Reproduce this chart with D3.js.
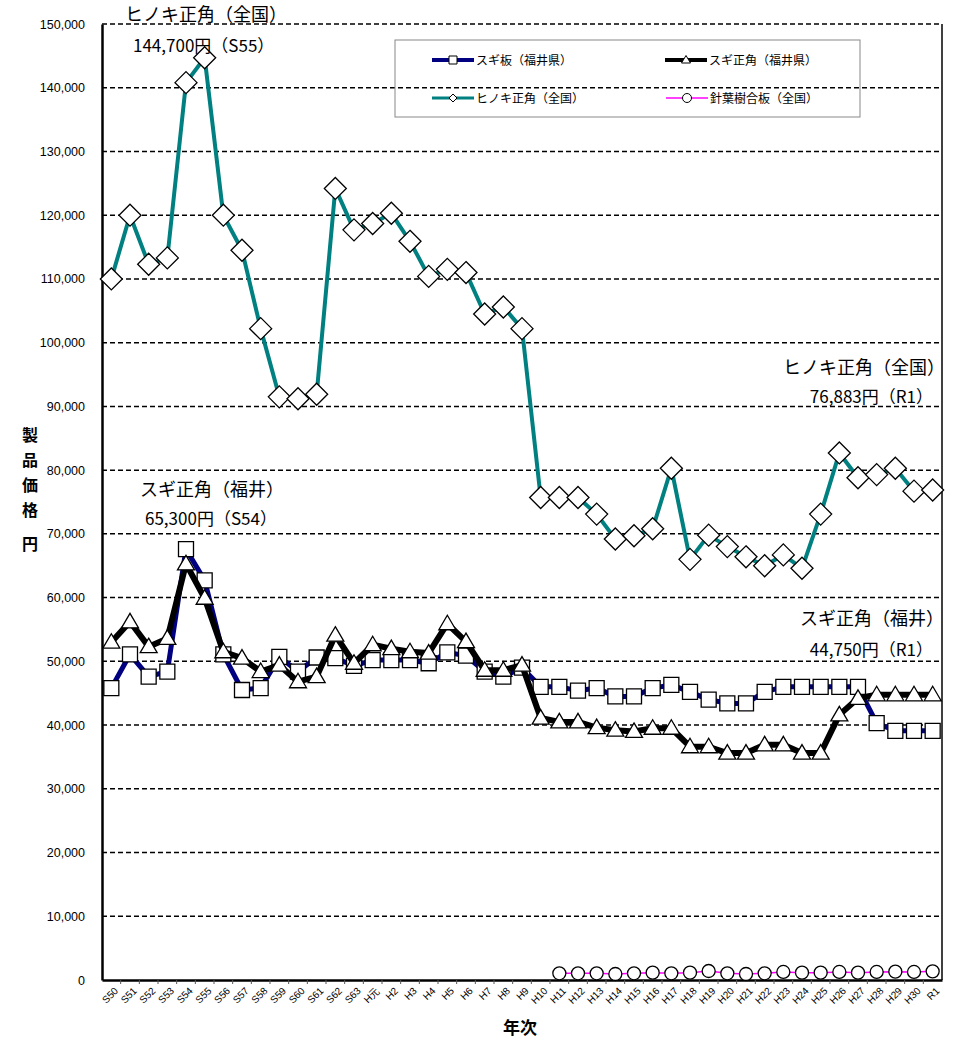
<!DOCTYPE html>
<html>
<head>
<meta charset="utf-8">
<script src="https://cdn.jsdelivr.net/npm/d3@7"></script>
<style>
  body { margin: 0; background: #fff; }
  text { font-family: "Noto Sans CJK JP", "Noto Sans", sans-serif; }
</style>
</head>
<body>
<div id="chart"></div>
<script>
var years = ["S50","S51","S52","S53","S54","S55","S56","S57","S58","S59","S60","S61","S62","S63",
  "H元","H2","H3","H4","H5","H6","H7","H8","H9","H10","H11","H12","H13","H14","H15","H16","H17",
  "H18","H19","H20","H21","H22","H23","H24","H25","H26","H27","H28","H29","H30","R1"];

// スギ板（福井県）
var sugiBoard = [45800,51100,47600,48400,67600,62700,51100,45500,45800,50700,48400,50600,50500,49300,
  50200,50200,50200,49700,51400,50900,48400,47600,49000,46000,46000,45400,45800,44500,44500,45800,46300,
  45200,44000,43400,43400,45200,46000,46000,46000,46000,46000,40300,39100,39100,39100];

// スギ正角（福井県）
var sugiSquare = [53000,56200,52300,53600,65300,59900,51500,50500,48400,49400,46800,47600,54100,49700,
  52600,52000,51500,51300,55900,53100,48600,48600,49400,41100,40500,40500,39600,39200,39000,39500,39500,
  36600,36600,35600,35600,36900,36900,35600,35600,41600,44200,44750,44750,44750,44750];

// ヒノキ正角（全国）
var hinoki = [110000,120000,112300,113300,140800,144700,120000,114500,102200,91500,91200,91900,124200,117700,
  118700,120300,115900,110400,111500,111000,104500,105600,102200,75700,75700,75700,73100,69200,69700,70800,80300,
  66000,69800,68000,66400,65000,66700,64600,73100,82700,78800,79300,80300,76700,76883];

// 針葉樹合板（全国） H11〜R1
var plywoodYears = ["H11","H12","H13","H14","H15","H16","H17","H18","H19","H20","H21","H22","H23","H24","H25",
  "H26","H27","H28","H29","H30","R1"];
var plywood = [1050,1050,1050,940,1050,1150,1050,1150,1410,1050,940,1050,1260,1150,1150,1260,1150,1260,1310,1260,1360];

var yTicks = d3.range(0, 150001, 10000);

var width = 962, height = 1043;
var plotL = 102, plotR = 942, plotT = 24, plotB = 980;

var svg = d3.select("#chart").append("svg")
  .attr("width", width)
  .attr("height", height);

var x = d3.scaleBand().domain(years).range([plotL, plotR]).padding(0);
var y = d3.scaleLinear().domain([0, 150000]).range([plotB, plotT]);
var cx = function (k) { return x(k) + x.bandwidth() / 2; };

// grid
svg.append("g").selectAll("line")
  .data(yTicks.filter(function (d) { return d > 0; }))
  .enter().append("line")
  .attr("x1", plotL).attr("x2", plotR)
  .attr("y1", function (d) { return y(d); })
  .attr("y2", function (d) { return y(d); })
  .attr("stroke", "#000")
  .attr("stroke-width", 1.5)
  .attr("stroke-dasharray", "5,3");

// right border
svg.append("line")
  .attr("x1", plotR).attr("x2", plotR).attr("y1", plotT).attr("y2", plotB)
  .attr("stroke", "#000").attr("stroke-width", 1.5);

// axes
var yAxis = svg.append("g")
  .attr("transform", "translate(" + plotL + ",0)")
  .call(d3.axisLeft(y).tickValues(yTicks).tickSize(0).tickPadding(17)
    .tickFormat(function (d) { return d3.format(",")(d); }));
yAxis.select(".domain").attr("stroke", "#000").attr("stroke-width", 2.5);
yAxis.selectAll("text")
  .style("font-family", "'Liberation Sans', Arial, sans-serif")
  .style("font-size", "12.5px")
  .attr("fill", "#000");

var xAxis = svg.append("g")
  .attr("transform", "translate(0," + plotB + ")")
  .call(d3.axisBottom(x).tickSize(0).tickSizeOuter(0));
xAxis.select(".domain").attr("stroke", "#000").attr("stroke-width", 2.5);
xAxis.selectAll("text")
  .style("font-family", "'Liberation Sans', Arial, sans-serif")
  .style("font-size", "10px")
  .attr("fill", "#000")
  .attr("text-anchor", "end")
  .attr("y", 0)
  .attr("dy", "0.35em")
  .attr("transform", "translate(5,9) rotate(-45)");
// tick marks at band edges
svg.append("g").selectAll("line")
  .data(years.slice(1))
  .enter().append("line")
  .attr("x1", function (d) { return x(d); })
  .attr("x2", function (d) { return x(d); })
  .attr("y1", plotB).attr("y2", plotB + 4)
  .attr("stroke", "#555").attr("stroke-width", 1);

// series helpers
function lineOf(keys, vals) {
  return d3.line()
    .x(function (d, i) { return cx(keys[i]); })
    .y(function (d) { return y(d); })(vals);
}

var squarePath = "M-7.5,-7.5H7.5V7.5H-7.5Z";
var triPath = "M0,-8.5L8.5,6L-8.5,6Z";
var diaPath = "M0,-11L11,0L0,11L-11,0Z";

function drawSeries(keys, vals, color, lw, shape) {
  var g = svg.append("g");
  g.append("path")
    .attr("d", lineOf(keys, vals))
    .attr("fill", "none")
    .attr("stroke", color)
    .attr("stroke-width", lw)
    .attr("stroke-linejoin", "round");
  var m = g.selectAll(".m").data(vals).enter();
  if (shape === "circle") {
    m.append("circle")
      .attr("cx", function (d, i) { return cx(keys[i]); })
      .attr("cy", function (d) { return y(d); })
      .attr("r", 6.5)
      .attr("fill", "#fff").attr("stroke", "#000").attr("stroke-width", 1.3);
  } else {
    m.append("path")
      .attr("d", shape)
      .attr("transform", function (d, i) { return "translate(" + cx(keys[i]) + "," + y(d) + ")"; })
      .attr("fill", "#fff").attr("stroke", "#000").attr("stroke-width", 1.3);
  }
}

drawSeries(years, sugiBoard, "#000080", 5, squarePath);
drawSeries(years, sugiSquare, "#000", 6, triPath);
drawSeries(years, hinoki, "#008080", 4, diaPath);
drawSeries(plywoodYears, plywood, "#ff00ff", 1.5, "circle");

// legend
var legend = svg.append("g");
legend.append("rect")
  .attr("x", 395).attr("y", 40).attr("width", 465).attr("height", 77)
  .attr("fill", "none").attr("stroke", "#888").attr("stroke-width", 1);

var legendItems = [
  { name: "スギ板（福井県）", color: "#000080", lw: 4, shape: "M-4,-4H4V4H-4Z", x: 432, y: 60 },
  { name: "スギ正角（福井県）", color: "#000", lw: 4, shape: "M0,-4.5L4.5,3L-4.5,3Z", x: 665, y: 60 },
  { name: "ヒノキ正角（全国）", color: "#008080", lw: 3, shape: "M0,-4L4,0L0,4L-4,0Z", x: 432, y: 98 },
  { name: "針葉樹合板（全国）", color: "#ff00ff", lw: 1.5, shape: "circle", x: 666, y: 98 }
];
legendItems.forEach(function (d) {
  legend.append("line")
    .attr("x1", d.x).attr("x2", d.x + 42).attr("y1", d.y).attr("y2", d.y)
    .attr("stroke", d.color).attr("stroke-width", d.lw);
  if (d.shape === "circle") {
    legend.append("circle").attr("cx", d.x + 21).attr("cy", d.y).attr("r", 4.5)
      .attr("fill", "#fff").attr("stroke", "#000").attr("stroke-width", 1);
  } else {
    legend.append("path").attr("d", d.shape)
      .attr("transform", "translate(" + (d.x + 21) + "," + d.y + ")")
      .attr("fill", "#fff").attr("stroke", "#000").attr("stroke-width", 1);
  }
  legend.append("text")
    .attr("x", d.x + 44).attr("y", d.y + 4.5)
    .style("font-size", "12px")
    .text(d.name);
});

// annotations
var notes = [
  { t: "ヒノキ正角（全国）", x: 125, y: 21, size: 18, anchor: "start" },
  { t: "144,700円（S55）", x: 133, y: 52, size: 17, anchor: "start" },
  { t: "ヒノキ正角（全国）", x: 945, y: 374, size: 18, anchor: "end" },
  { t: "76,883円（R1）", x: 933, y: 403, size: 17, anchor: "end" },
  { t: "スギ正角（福井）", x: 140, y: 496, size: 18, anchor: "start" },
  { t: "65,300円（S54）", x: 145, y: 525, size: 17, anchor: "start" },
  { t: "スギ正角（福井）", x: 944, y: 625, size: 18, anchor: "end" },
  { t: "44,750円（R1）", x: 933, y: 656, size: 17, anchor: "end" }
];
svg.append("g").selectAll("text")
  .data(notes).enter().append("text")
  .attr("x", function (d) { return d.x; })
  .attr("y", function (d) { return d.y; })
  .attr("text-anchor", function (d) { return d.anchor; })
  .style("font-size", function (d) { return d.size + "px"; })
  .text(function (d) { return d.t; });

// axis titles
var yTitle = ["製", "品", "価", "格", "円"];
svg.append("g").selectAll("text")
  .data(yTitle).enter().append("text")
  .attr("x", 30)
  .attr("y", function (d, i) { return 441 + i * 25 + (i === 4 ? 9 : 0); })
  .attr("text-anchor", "middle")
  .style("font-size", "16px")
  .style("font-weight", "bold")
  .text(function (d) { return d; });

svg.append("text")
  .attr("x", 520).attr("y", 1034)
  .attr("text-anchor", "middle")
  .style("font-size", "17px")
  .style("font-weight", "bold")
  .text("年次");
</script>
</body>
</html>
